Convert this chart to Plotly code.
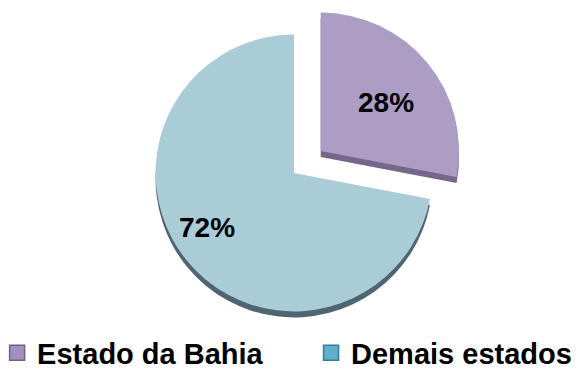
import math
import plotly.graph_objects as go

# Share of the total: Bahia vs. the remaining states
labels = ["Estado da Bahia", "Demais estados"]
values = [28, 72]
face_colors = ["#AB9DC4", "#AACCD6"]
rim_colors = ["#75678A", "#4F6570"]
swatch_fills = ["#A291C0", "#5FB0C8"]
swatch_edges = ["#6E5F86", "#2F7F97"]
pull = [0.25, 0]
label_radius = [0.59, 0.74]           # distance of each percentage from the centre, share of radius
label_sweep = [0.53, 0.53]            # position of each percentage along its slice's arc

W, H = 576, 374
cx, cy, half = 294, 173, 173          # pie centre and half box size in pixels
depth = 6                              # thickness of the 3D rim in pixels
r = half / (1 + max(pull))

def dom(x0px, x1px, top_px, bot_px):
    return dict(x=[x0px / W, x1px / W], y=[max(0, 1 - bot_px / H), min(1, 1 - top_px / H)])

font_family = "Liberation Sans, Arial, sans-serif"

fig = go.Figure()

# darker copy of the pie, shifted down to give the slices some depth
fig.add_trace(go.Pie(
    labels=labels, values=values, pull=pull, sort=False,
    direction="clockwise", rotation=0,
    marker=dict(colors=rim_colors, line=dict(width=0)),
    textinfo="none", hoverinfo="skip", showlegend=False,
    domain=dom(cx - half, cx + half, cy - half + depth, cy + half + depth),
))

# top face of the pie
fig.add_trace(go.Pie(
    labels=labels, values=values, pull=pull, sort=False,
    direction="clockwise", rotation=0,
    marker=dict(colors=face_colors, line=dict(width=0)),
    textinfo="none", showlegend=False,
    domain=dom(cx - half, cx + half, cy - half, cy + half),
))

# percentage labels placed on each slice (clockwise from 12 o'clock)
total = sum(values)
start = 0.0
for v, p, fr, sw in zip(values, pull, label_radius, label_sweep):
    share = v / total
    mid_slice = (start + share / 2) * 2 * math.pi
    ang = (start + share * sw) * 2 * math.pi
    start += share
    ox = cx + r * p * math.sin(mid_slice)
    oy = cy - r * p * math.cos(mid_slice)
    x_px = ox + r * fr * math.sin(ang)
    y_px = oy - r * fr * math.cos(ang)
    fig.add_annotation(
        x=x_px / W, y=1 - y_px / H, xref="paper", yref="paper",
        xanchor="center", yanchor="middle",
        text=f"{share * 100:.0f}%", showarrow=False,
        font=dict(family=font_family, size=28, color="black", weight="bold"),
    )

# one legend per category so the two entries sit far apart on one row
legend_names = ["legend", "legend2"]
for name, color, edge, leg in zip(labels, swatch_fills, swatch_edges, legend_names):
    fig.add_trace(go.Scatter(
        x=[None], y=[None], mode="markers", name=name, legend=leg,
        marker=dict(symbol="square", size=15, color=color, line=dict(color=edge, width=1.5)),
        hoverinfo="skip",
    ))

legend_style = dict(
    orientation="h", xref="paper", yref="paper",
    xanchor="left", y=-0.012, yanchor="bottom",
    font=dict(family=font_family, size=29, color="black", weight="bold"),
    itemsizing="trace", bgcolor="rgba(0,0,0,0)",
)

fig.update_layout(
    width=W, height=H,
    margin=dict(l=0, r=0, t=0, b=0, autoexpand=False),
    paper_bgcolor="white", plot_bgcolor="white",
    showlegend=True,
    xaxis=dict(visible=False),
    yaxis=dict(visible=False),
    legend=dict(x=-0.005, **legend_style),
    legend2=dict(x=0.54, **legend_style),
)

fig.write_html("out.html")
